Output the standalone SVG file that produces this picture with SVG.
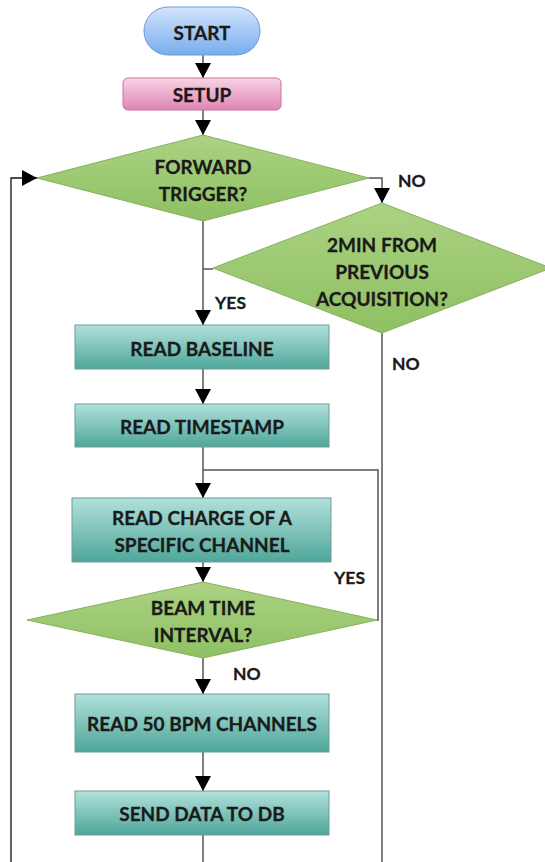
<svg xmlns="http://www.w3.org/2000/svg" width="545" height="862" viewBox="0 0 545 862">
<defs>
<linearGradient id="gBlue" x1="0" y1="0" x2="0" y2="1"><stop offset="0" stop-color="#d3e5fb"/><stop offset="1" stop-color="#78acee"/></linearGradient>
<linearGradient id="gPink" x1="0" y1="0" x2="0" y2="1"><stop offset="0" stop-color="#f9d3e5"/><stop offset="1" stop-color="#de86b4"/></linearGradient>
<linearGradient id="gGreen" x1="0" y1="0" x2="0" y2="1"><stop offset="0" stop-color="#abd283"/><stop offset="1" stop-color="#8fc062"/></linearGradient>
<linearGradient id="gTeal" x1="0" y1="0" x2="0" y2="1"><stop offset="0" stop-color="#b1e1db"/><stop offset="1" stop-color="#4fa69a"/></linearGradient>
<marker id="arr" markerUnits="userSpaceOnUse" markerWidth="16" markerHeight="16" refX="15" refY="8" orient="auto"><path d="M0,0 L15,8 L0,16 z" fill="#000"/></marker>
</defs>
<style>
.t{font-family:Lato,"Liberation Sans",sans-serif;font-weight:bold;font-size:19px;fill:#1a1a1a;text-anchor:middle;dominant-baseline:central;stroke:#1a1a1a;stroke-width:0.3}
.l{font-family:Lato,"Liberation Sans",sans-serif;font-weight:bold;font-size:17.5px;fill:#1a1a1a;dominant-baseline:central;stroke:#1a1a1a;stroke-width:0.3}
.c{fill:none;stroke:#555;stroke-width:1.5}
.k{fill:none;stroke:#111;stroke-width:1.3}
.box{fill:url(#gTeal);stroke:#6f9d97;stroke-width:1}
.dia{fill:url(#gGreen);stroke:#86b060;stroke-width:1}
</style>
<g id="connectors">
<line class="c" x1="203" y1="55" x2="203" y2="78" marker-end="url(#arr)"/>
<line class="c" x1="203" y1="110" x2="203" y2="135" marker-end="url(#arr)"/>
<polyline class="c" points="369,178 382,178 382,203" marker-end="url(#arr)"/>
<line class="c" x1="203" y1="221" x2="203" y2="325" marker-end="url(#arr)"/>
<line class="c" x1="203" y1="269" x2="213" y2="269"/>
<line class="c" x1="203" y1="369" x2="203" y2="404" marker-end="url(#arr)"/>
<line class="c" x1="203" y1="447" x2="203" y2="498" marker-end="url(#arr)"/>
<polyline class="c" points="377,620 378,620 378,470 203,470"/>
<line class="c" x1="203" y1="562" x2="203" y2="582" marker-end="url(#arr)"/>
<line class="c" x1="203" y1="658" x2="203" y2="694" marker-end="url(#arr)"/>
<line class="c" x1="203" y1="752" x2="203" y2="791" marker-end="url(#arr)"/>
<line class="c" x1="203" y1="835" x2="203" y2="862"/>
<line class="c" x1="382" y1="333" x2="382" y2="862"/>
<polyline class="k" points="11,862 11,178 37,178" marker-end="url(#arr)"/>
<text class="l" x="398" y="180">NO</text>
<text class="l" x="215" y="302">YES</text>
<text class="l" x="392" y="363">NO</text>
<text class="l" x="334" y="577">YES</text>
<text class="l" x="233" y="673">NO</text>
</g>
<g id="start">
<rect x="144" y="7" width="116" height="48" rx="24" fill="url(#gBlue)" stroke="#6d9bd4" stroke-width="1"/>
<text class="t" x="202" y="32">START</text>
</g>
<g id="setup">
<rect x="123" y="78" width="158" height="32" rx="5" fill="url(#gPink)" stroke="#c4769f" stroke-width="1"/>
<text class="t" x="202" y="94">SETUP</text>
</g>
<g id="forward-trigger">
<polygon class="dia" points="203,135 369,178 203,221 37,178"/>
<text class="t" x="203" y="166">FORWARD</text>
<text class="t" x="203" y="193">TRIGGER?</text>
</g>
<g id="two-min">
<polygon class="dia" points="382,203 551,268 382,333 213,268"/>
<text class="t" x="382" y="244">2MIN FROM</text>
<text class="t" x="382" y="271">PREVIOUS</text>
<text class="t" x="382" y="298">ACQUISITION?</text>
</g>
<g id="read-baseline">
<rect class="box" x="75" y="325" width="254" height="44"/>
<text class="t" x="202" y="348">READ BASELINE</text>
</g>
<g id="read-timestamp">
<rect class="box" x="75" y="404" width="254" height="43"/>
<text class="t" x="202" y="426">READ TIMESTAMP</text>
</g>
<g id="read-charge">
<rect class="box" x="72" y="498" width="259" height="64"/>
<text class="t" x="202" y="517">READ CHARGE OF A</text>
<text class="t" x="202" y="544">SPECIFIC CHANNEL</text>
</g>
<g id="beam-time">
<polygon class="dia" points="203,582 377,620 203,658 27,620"/>
<text class="t" x="203" y="607">BEAM TIME</text>
<text class="t" x="203" y="634">INTERVAL?</text>
</g>
<g id="read-50">
<rect class="box" x="75" y="694" width="254" height="58"/>
<text class="t" x="202" y="723">READ 50 BPM CHANNELS</text>
</g>
<g id="send-data">
<rect class="box" x="75" y="791" width="254" height="44"/>
<text class="t" x="202" y="813">SEND DATA TO DB</text>
</g>
</svg>
